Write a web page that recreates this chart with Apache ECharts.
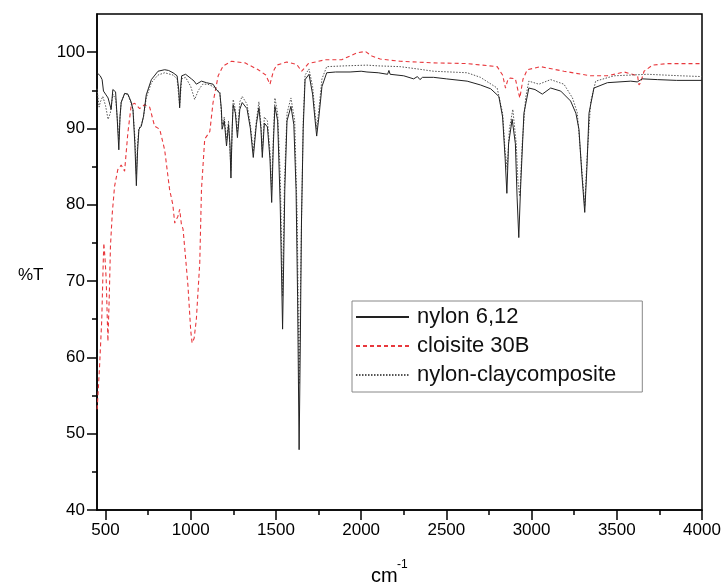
<!DOCTYPE html>
<html>
<head>
<meta charset="utf-8">
<script src="https://cdn.jsdelivr.net/npm/echarts@6/dist/echarts.min.js"></script>
<style>
  html, body { margin: 0; padding: 0; background: #fff; }
  #chart { width: 726px; height: 587px; }
</style>
</head>
<body>
<div id="chart"></div>
<script>
// tick positions
var xMajorTicks = [500, 1000, 1500, 2000, 2500, 3000, 3500, 4000];
var xMinorTicks = [750, 1250, 1750, 2250, 2750, 3250, 3750];
var yMajorTicks = [40, 50, 60, 70, 80, 90, 100];
var yMinorTicks = [45, 55, 65, 75, 85, 95];

var seriesNames = ["nylon 6,12", "cloisite 30B", "nylon-claycomposite"];

// [wavenumber cm-1, %T]
var nylon = [
  [450, 97.3], [455, 97.1], [469, 96.9], [480, 96.4], [488, 94.9], [500, 94.5],
  [515, 94.0], [533, 92.5], [543, 95.1], [559, 94.8], [568, 91.5], [578, 87.2],
  [585, 91.5], [592, 93.4], [612, 94.6], [631, 94.5], [650, 93.5], [661, 92.5],
  [672, 88], [681, 82.5], [688, 87], [696, 89.9], [710, 90.3], [723, 91.6],
  [739, 94.4], [769, 96.4], [808, 97.5], [847, 97.7], [870, 97.6], [896, 97.3],
  [920, 96.9], [930, 95], [935, 92.7], [941, 95.5], [947, 96.9], [970, 97.1],
  [1004, 96.5], [1020, 96.2], [1033, 95.8], [1063, 96.2], [1092, 96.0],
  [1131, 95.8], [1151, 95.1], [1171, 94.6], [1180, 92.5], [1184, 89.9],
  [1197, 91.0], [1210, 87.7], [1222, 90.5], [1230, 88], [1236, 83.5],
  [1243, 90], [1249, 93.1], [1262, 92.0], [1274, 88.8], [1288, 92.5],
  [1302, 93.4], [1330, 92.6], [1350, 90.0], [1367, 86.2], [1385, 90.5],
  [1400, 92.7], [1412, 90.0], [1420, 86.2], [1432, 90.7], [1450, 90.2],
  [1465, 86.0], [1475, 80.3], [1485, 88.0], [1494, 92.9], [1510, 91.0],
  [1525, 80.0], [1532, 72], [1539, 63.7], [1545, 72], [1552, 82], [1565, 91.0],
  [1588, 92.9], [1605, 90.5], [1618, 82], [1627, 68], [1636, 47.9], [1643, 62],
  [1650, 78], [1660, 90.0], [1671, 96.4], [1694, 97.1], [1715, 94.5],
  [1730, 91.0], [1739, 89.0], [1752, 91.5], [1770, 95.5], [1798, 97.3],
  [1850, 97.4], [1935, 97.4], [2000, 97.5], [2034, 97.4], [2100, 97.3],
  [2155, 97.1], [2163, 97.6], [2170, 97.1], [2250, 96.9], [2308, 96.5],
  [2330, 96.8], [2345, 96.4], [2360, 96.7], [2425, 96.7], [2500, 96.5],
  [2622, 96.2], [2700, 95.7], [2760, 95.2], [2808, 94.2], [2830, 91.5],
  [2845, 86], [2855, 81.5], [2865, 88.0], [2886, 91.2], [2905, 88.0],
  [2915, 81], [2925, 75.7], [2935, 82.0], [2955, 92.0], [2984, 95.3],
  [3020, 95.1], [3063, 94.5], [3112, 95.3], [3171, 94.9], [3229, 93.6],
  [3260, 92.0], [3278, 89.9], [3295, 84.0], [3312, 79.0], [3325, 85.0],
  [3337, 92.0], [3366, 95.3], [3445, 96.0], [3582, 96.2], [3620, 96.1],
  [3650, 96.5], [3739, 96.4], [3850, 96.3], [4000, 96.3]
];

var cloisite = [
  [451, 53.2], [465, 58.8], [478, 65.0], [486, 72.0], [490, 75.0], [497, 73.0],
  [504, 70.2], [514, 62.1], [522, 68.0], [529, 74.6], [540, 79.0], [553, 82.4],
  [572, 84.6], [592, 85.2], [602, 84.8], [612, 84.4], [631, 89.4], [651, 93.1],
  [671, 93.3], [700, 92.6], [729, 93.1], [759, 92.8], [788, 90.3], [818, 89.9],
  [847, 87.2], [876, 82.0], [895, 80.0], [906, 77.6], [925, 78.5], [935, 79.4],
  [945, 77.5], [955, 76.8], [970, 73.0], [984, 69.3], [1000, 63.5], [1008, 61.9],
  [1020, 62.5], [1033, 65.0], [1053, 72.4], [1063, 82.0], [1082, 88.6],
  [1112, 89.6], [1131, 93.4], [1161, 96.9], [1190, 98.2], [1239, 98.8],
  [1318, 98.6], [1396, 97.7], [1440, 97.0], [1465, 95.8], [1485, 97.5],
  [1504, 98.3], [1563, 98.7], [1622, 98.4], [1651, 97.5], [1690, 98.5],
  [1788, 99.0], [1886, 99.0], [1935, 99.5], [1975, 99.9], [2024, 100.1],
  [2063, 99.5], [2112, 99.1], [2229, 98.8], [2425, 98.6], [2622, 98.5],
  [2798, 98.1], [2830, 97.0], [2847, 95.3], [2862, 96.5], [2876, 96.6],
  [2905, 96.5], [2920, 95.0], [2931, 94.0], [2950, 96.5], [2975, 97.7],
  [3053, 98.1], [3190, 97.5], [3347, 96.9], [3445, 96.9], [3543, 97.4],
  [3622, 96.9], [3630, 95.7], [3640, 96.0], [3660, 97.5], [3710, 98.3],
  [3798, 98.5], [4000, 98.5]
];

var composite = [
  [450, 95.2], [462, 92.8], [470, 93.5], [484, 94.2], [500, 93.0], [515, 91.2],
  [528, 92.0], [543, 94.5], [560, 93.8], [570, 91], [578, 88.5], [585, 91.5],
  [592, 93.5], [612, 94.5], [631, 94.5], [661, 92.5], [672, 89], [681, 84.0],
  [688, 88], [696, 90.0], [710, 90.5], [723, 91.5], [739, 94.0], [769, 96.0],
  [808, 97.0], [847, 97.3], [896, 97.0], [920, 96.5], [935, 93.0], [947, 96.5],
  [970, 96.7], [1000, 95.5], [1023, 93.8], [1045, 95.0], [1070, 95.8],
  [1100, 95.8], [1131, 95.5], [1151, 95.0], [1171, 94.8], [1184, 90.5],
  [1197, 91.5], [1210, 88.5], [1222, 91.0], [1236, 84.5], [1249, 93.8],
  [1262, 92.5], [1274, 89.5], [1288, 93.5], [1302, 94.2], [1330, 93.2],
  [1350, 90.5], [1367, 87.0], [1385, 91.0], [1400, 93.5], [1412, 90.5],
  [1420, 87.0], [1432, 91.5], [1450, 91.0], [1465, 87.0], [1475, 82.0],
  [1485, 89.0], [1494, 94.0], [1510, 92.0], [1525, 84.0], [1539, 68.0],
  [1550, 83.0], [1565, 92.0], [1588, 94.0], [1610, 91.0], [1625, 78.0],
  [1636, 56.5], [1648, 75.0], [1660, 91.0], [1671, 97.0], [1694, 97.8],
  [1715, 95.5], [1730, 92.0], [1739, 89.9], [1752, 92.5], [1770, 96.5],
  [1798, 98.1], [1900, 98.2], [2034, 98.3], [2100, 98.2], [2229, 98.1],
  [2330, 97.8], [2425, 97.5], [2622, 97.3], [2700, 96.7], [2798, 95.3],
  [2830, 92.0], [2845, 87.0], [2857, 84.6], [2870, 90.0], [2890, 92.5],
  [2910, 88.0], [2920, 83.0], [2931, 81.1], [2945, 88.0], [2965, 94.0],
  [2984, 96.2], [3043, 95.8], [3112, 96.4], [3190, 95.8], [3240, 94.0],
  [3268, 92.1], [3290, 86.0], [3312, 79.8], [3325, 86.0], [3347, 93.5],
  [3376, 96.2], [3484, 96.9], [3680, 97.1], [3876, 96.9], [4000, 96.8]
];

var font = "'Liberation Sans', Arial, sans-serif";
var chart = echarts.init(document.getElementById("chart"));

function plain(v) { return String(v); }

var option = {
  animation: false,
  backgroundColor: "#fff",
  grid: {
    left: 97, right: 24, top: 14, bottom: 77,
    show: true, borderColor: "#000", borderWidth: 1.5,
    backgroundColor: "transparent"
  },
  legend: {
    left: 352, top: 301,
    orient: "vertical",
    data: seriesNames,
    borderColor: "#888", borderWidth: 1,
    padding: [5, 26, 6, 3],
    itemWidth: 53, itemHeight: 12, itemGap: 7,
    itemStyle: { opacity: 0 },
    textStyle: { fontSize: 22, fontFamily: font, color: "#111", padding: [0, 0, 0, 3] }
  },
  xAxis: [
    {
      type: "value", min: 450, max: 4000,
      axisLine: { lineStyle: { color: "#000", width: 1.5 } },
      axisTick: { length: 10, customValues: xMajorTicks, lineStyle: { color: "#000", width: 1.5 } },
      axisLabel: { customValues: xMajorTicks, formatter: plain, fontSize: 17, fontFamily: font, color: "#000", margin: 12 },
      splitLine: { show: false }
    },
    {
      type: "value", min: 450, max: 4000, position: "bottom",
      axisLine: { show: false },
      axisTick: { length: 5, customValues: xMinorTicks, lineStyle: { color: "#000", width: 1.5 } },
      axisLabel: { show: false },
      splitLine: { show: false }
    }
  ],
  yAxis: [
    {
      type: "value", min: 40, max: 105,
      axisLine: { show: true, lineStyle: { color: "#000", width: 1.5 } },
      axisTick: { show: true, length: 10, customValues: yMajorTicks, lineStyle: { color: "#000", width: 1.5 } },
      axisLabel: { customValues: yMajorTicks, formatter: plain, fontSize: 17, fontFamily: font, color: "#000", margin: 12 },
      splitLine: { show: false }
    },
    {
      type: "value", min: 40, max: 105, position: "left",
      axisLine: { show: false },
      axisTick: { show: true, length: 5, customValues: yMinorTicks, lineStyle: { color: "#000", width: 1.5 } },
      axisLabel: { show: false },
      splitLine: { show: false }
    }
  ],
  graphic: [
    { type: "text", left: 18, top: 267, style: { text: "%T", fontSize: 17, fontFamily: font, fill: "#000" } },
    { type: "text", left: 371, top: 566, style: { text: "cm", fontSize: 20, fontFamily: font, fill: "#000" } },
    { type: "text", left: 397, top: 559, style: { text: "-1", fontSize: 12, fontFamily: font, fill: "#000" } }
  ],
  series: [
    {
      name: seriesNames[1], type: "line", data: cloisite,
      symbol: "none", z: 2,
      lineStyle: { color: "#e8383d", width: 1.1, type: [4, 3] },
      itemStyle: { color: "#e8383d" }
    },
    {
      name: seriesNames[2], type: "line", data: composite,
      symbol: "none", z: 3,
      lineStyle: { color: "#555", width: 1, type: [1.5, 1.5] },
      itemStyle: { color: "#555" }
    },
    {
      name: seriesNames[0], type: "line", data: nylon,
      symbol: "none", z: 4,
      lineStyle: { color: "#222", width: 1 },
      itemStyle: { color: "#222" }
    }
  ]
};

chart.setOption(option);
</script>
</body>
</html>
